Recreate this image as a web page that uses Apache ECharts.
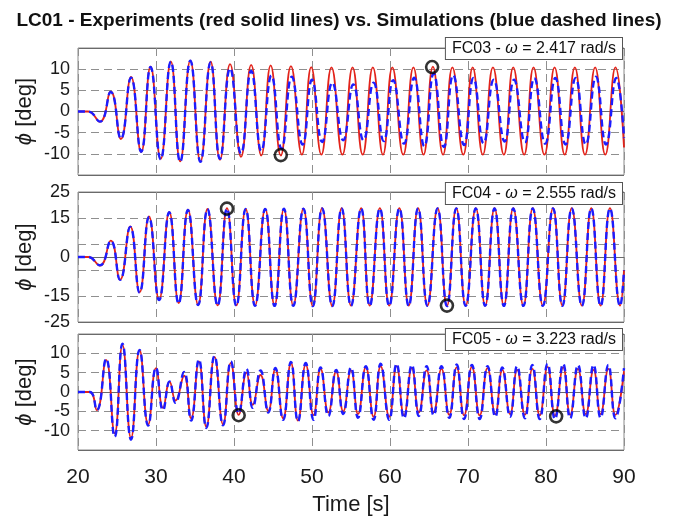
<!DOCTYPE html>
<html>
<head>
<meta charset="utf-8">
<script src="https://cdn.jsdelivr.net/npm/echarts@6/dist/echarts.min.js"></script>
<style>
  html, body { margin: 0; padding: 0; background: #fff; }
  #chart { width: 678px; height: 517px; }
</style>
</head>
<body>
<div id="chart"></div>
<script>
// x axis ticks (time, s)
const timeTicks = [20, 30, 40, 50, 60, 70, 80, 90];
// y tick labels for each panel
const yLabels03 = [-10, -5, 0, 5, 10];
const yLabels04 = [-25, -15, 0, 15, 25];
const yLabels05 = [-10, -5, 0, 5, 10];

// FC03 - peaks/troughs [time, phi]
const fc03Exp = [[20, 0], [21.3, 0], [22.8, -2.4], [24.2, 4.7], [25.5, -6.5], [26.8, 8.2], [28.1, -9.6], [29.3, 10.6],
  [30.6, -11.2], [31.9, 11.8], [33.1, -11.8], [34.4, 12.0], [35.7, -11.8], [37.0, 11.8], [38.2, -11.4], [39.5, 11.2],
  [40.9, -10.7], [42.2, 11.0], [43.5, -10.4], [44.7, 10.9], [46.0, -10.4], [47.3, 10.7], [48.7, -10.2], [49.9, 10.5],
  [51.2, -10.2], [52.5, 10.4], [53.9, -10.2], [55.2, 10.4], [56.5, -10.2], [57.8, 10.4], [59.1, -10.2], [60.3, 10.4],
  [61.7, -10.2], [63.0, 10.4], [64.3, -10.2], [65.5, 10.6], [66.8, -10.2], [68.0, 10.4], [69.4, -10.2], [70.6, 10.4],
  [71.9, -10.2], [73.2, 10.4], [74.6, -10.2], [75.8, 10.4], [77.2, -10.2], [78.4, 10.4], [79.8, -10.2], [81.1, 10.4],
  [82.4, -10.2], [83.7, 10.4], [85.0, -10.2], [86.3, 10.4], [87.6, -10.2], [88.9, 10.4], [90, -8.5]];
const fc03Sim = [[20, 0], [21.3, 0], [22.8, -2.4], [24.2, 4.6], [25.5, -6.4], [26.8, 8.0], [28.1, -9.5], [29.3, 10.5],
  [30.6, -11.3], [31.9, 11.8], [33.1, -11.9], [34.4, 12.0], [35.7, -11.9], [37.0, 11.6], [38.2, -11.2], [39.5, 10.2],
  [40.9, -9.9], [42.2, 9.6], [43.5, -9.3], [44.8, 8.5], [46.1, -8.8], [47.4, 8.2], [48.8, -7.8], [50.0, 7.5],
  [51.3, -7.2], [52.6, 6.8], [54.0, -6.8], [55.3, 6.4], [56.6, -6.8], [57.9, 6.8], [59.2, -7.0], [60.4, 7.4],
  [61.8, -7.6], [63.1, 8.0], [64.4, -8.2], [65.6, 9.0], [66.9, -8.4], [68.1, 8.6], [69.5, -7.9], [70.7, 7.9],
  [72.0, -7.5], [73.3, 7.5], [74.7, -7.1], [75.9, 7.5], [77.3, -7.3], [78.5, 7.9], [79.9, -7.6], [81.2, 7.9],
  [82.5, -7.8], [83.8, 7.9], [85.1, -7.8], [86.4, 8.2], [87.7, -7.8], [89.0, 7.9], [90, -6.3]];
const fc03Marks = [[46.0, -10.3], [65.4, 10.5]];

// FC04
const fc04Exp = [[20, 0], [21.3, 0], [22.8, -3.3], [24.2, 6.3], [25.4, -8.7], [26.7, 11.8], [27.9, -13.6], [29.1, 15.6],
  [30.4, -16.4], [31.7, 17.3], [32.9, -17.7], [34.1, 18.2], [35.4, -18.3], [36.6, 18.5], [37.9, -18.6], [39.1, 18.8],
  [40.3, -18.6], [41.5, 18.5], [42.7, -18.6], [44.0, 18.5], [45.2, -18.6], [46.4, 18.5], [47.6, -18.6], [48.9, 18.6],
  [50.1, -18.9], [51.3, 18.8], [52.6, -18.9], [53.8, 18.8], [55.0, -18.7], [56.3, 18.8], [57.4, -18.7], [58.7, 18.8],
  [59.9, -18.7], [61.2, 18.8], [62.4, -18.7], [63.6, 18.8], [64.8, -18.7], [66.1, 18.8], [67.3, -18.8], [68.5, 18.8],
  [69.7, -18.7], [71.0, 18.8], [72.2, -18.7], [73.4, 18.8], [74.6, -18.7], [75.8, 18.8], [77.1, -18.7], [78.3, 18.8],
  [79.6, -18.7], [80.9, 18.8], [82.1, -18.7], [83.3, 18.8], [84.6, -18.7], [85.8, 18.8], [87.0, -18.7], [88.2, 18.8],
  [89.5, -18.7], [90, -5.0]];
const fc04Sim = [[20, 0], [21.3, 0], [22.8, -3.2], [24.2, 6.2], [25.4, -8.8], [26.7, 11.6], [27.9, -13.7], [29.1, 15.4],
  [30.4, -16.6], [31.7, 17.2], [32.9, -17.9], [34.1, 18.1], [35.4, -18.5], [36.6, 18.4], [37.9, -18.7], [39.1, 18.6],
  [40.3, -18.8], [41.5, 18.5], [42.7, -18.8], [44.0, 18.5], [45.2, -18.8], [46.4, 18.6], [47.6, -18.8], [48.9, 18.6],
  [50.1, -18.9], [51.3, 18.7], [52.6, -18.9], [53.8, 18.7], [55.0, -18.8], [56.3, 18.7], [57.4, -18.8], [58.7, 18.7],
  [59.9, -18.8], [61.2, 18.7], [62.4, -18.8], [63.6, 18.7], [64.8, -18.8], [66.1, 18.7], [67.3, -18.9], [68.5, 18.7],
  [69.7, -18.8], [71.0, 18.7], [72.2, -18.8], [73.4, 18.7], [74.6, -18.8], [75.8, 18.7], [77.1, -18.8], [78.3, 18.7],
  [79.6, -18.8], [80.9, 18.7], [82.1, -18.8], [83.3, 18.7], [84.6, -18.8], [85.8, 18.7], [87.0, -18.8], [88.2, 18.7],
  [89.5, -18.8], [90, -5.2]];
const fc04Marks = [[39.1, 18.6], [67.3, -18.7]];

// FC05
const fc05Exp = [[20, 0], [21.5, 0], [22.4, -4.7], [23.6, 8.3], [24.7, -10.7], [25.7, 12.2], [26.8, -11.9], [27.9, 10.8],
  [29.0, -8.4], [30.0, 6.2], [30.9, -4.1], [31.75, 2.6], [32.5, -2.2], [33.6, 4.2], [34.5, -6.8], [35.5, 7.9],
  [36.45, -9.0], [37.5, 9.1], [38.6, -8.4], [39.6, 7.5], [40.6, -5.9], [41.6, 5.0], [42.4, -3.3], [43.4, 4.4],
  [44.4, -4.9], [45.3, 6.0], [46.3, -6.8], [47.3, 7.5], [48.2, -7.4], [49.2, 7.1], [50.2, -6.0], [51.1, 6.0],
  [52.1, -5.3], [53.1, 5.3], [54.0, -5.0], [55.0, 5.6], [55.9, -5.7], [56.9, 6.4], [57.9, -6.4], [58.8, 6.7],
  [59.9, -6.4], [60.85, 6.7], [61.8, -6.05], [62.8, 6.2], [63.7, -5.3], [64.7, 5.6], [65.6, -5.3], [66.6, 6.0],
  [67.6, -5.9], [68.55, 6.35], [69.5, -6.05], [70.5, 6.5], [71.5, -6.05], [72.5, 6.2], [73.5, -5.7], [74.4, 5.7],
  [75.4, -5.7], [76.3, 5.7], [77.3, -5.9], [78.25, 6.0], [79.2, -6.05], [80.2, 6.5], [81.15, -6.1], [82.2, 6.35],
  [83.1, -5.9], [84.1, 6.0], [85.1, -5.7], [86.1, 5.7], [87.0, -5.7], [88.0, 6.0], [88.9, -5.9], [90, 5.4]];
const fc05Sim = [[20, 0], [21.5, 0], [22.4, -4.7], [23.6, 8.6], [24.7, -11.6], [25.7, 12.5], [26.8, -12.3], [27.9, 10.9],
  [29.0, -8.7], [30.0, 6.3], [30.9, -4.7], [31.75, 2.7], [32.5, -2.8], [33.6, 5.2], [34.5, -7.4], [35.5, 8.4],
  [36.45, -9.3], [37.5, 9.3], [38.6, -8.6], [39.6, 7.9], [40.6, -5.5], [41.6, 6.0], [42.4, -4.1], [43.4, 5.6],
  [44.4, -5.3], [45.3, 6.2], [46.3, -7.2], [47.3, 7.8], [48.2, -7.6], [49.2, 7.5], [50.2, -7.2], [51.1, 6.35],
  [52.1, -6.2], [53.1, 5.7], [54.0, -5.7], [55.0, 6.35], [55.9, -6.7], [56.9, 6.7], [57.9, -7.2], [58.8, 7.3],
  [59.9, -7.2], [60.85, 7.3], [61.8, -6.8], [62.8, 7.0], [63.7, -6.2], [64.7, 6.7], [65.6, -6.05], [66.6, 6.7],
  [67.6, -6.7], [68.55, 7.1], [69.5, -7.0], [70.5, 7.0], [71.5, -7.0], [72.5, 6.7], [73.5, -6.4], [74.4, 6.35],
  [75.4, -6.4], [76.3, 6.7], [77.3, -6.8], [78.25, 7.0], [79.2, -7.0], [80.2, 7.3], [81.15, -7.0], [82.2, 7.3],
  [83.1, -6.8], [84.1, 7.0], [85.1, -6.8], [86.1, 7.0], [87.0, -6.7], [88.0, 7.0], [88.9, -6.8], [90, 6.2]];
const fc05Marks = [[40.6, -6.0], [81.3, -6.3]];

const font = '"Liberation Sans", Arial, Helvetica, sans-serif';
const gridColor = '#8f8f8f';

const chart = echarts.init(document.getElementById('chart'));

const grids = [
  { left: 78, right: 54, top: 48, height: 127 },
  { left: 78, right: 54, top: 192, height: 130 },
  { left: 78, right: 54, top: 334, height: 127 }
].map(g => Object.assign(g, { show: true, borderColor: '#8a8a8a', borderWidth: 1, backgroundColor: '#fff' }));

function makeX(i) {
  return {
    type: 'value', gridIndex: i, min: timeTicks[0], max: timeTicks[timeTicks.length - 1], interval: 10,
    axisLine: { show: false }, axisTick: { show: false },
    axisLabel: { show: i === 2, color: '#1a1a1a', fontSize: 21, fontFamily: font, margin: 17,
      formatter: v => timeTicks.includes(v) ? String(v) : '' },
    splitLine: { show: true, lineStyle: { color: gridColor, type: [8, 5], width: 1 } },
    name: i === 2 ? 'Time [s]' : '', nameLocation: 'middle', nameGap: 44, nameMoveOverlap: false,
    nameTextStyle: { color: '#1a1a1a', fontSize: 22, fontFamily: font }
  };
}

// dashed grid axis (with labels) + second axis for the solid zero line
function makeY(i, lim, step, labels) {
  // zero gets its own label when the dashed axis has no tick there
  const zeroOnGrid = (lim % step) === 0;
  return [{
    type: 'value', gridIndex: i, min: -lim, max: lim, interval: step, position: 'left',
    axisLine: { show: false }, axisTick: { show: false },
    axisLabel: { color: '#1a1a1a', fontSize: 18, fontFamily: font, margin: 8,
      formatter: v => labels.includes(v) ? String(v) : '' },
    splitLine: { show: true, lineStyle: { color: gridColor, type: [8, 5], width: 1 } },
    name: '{p|ϕ} [deg]', nameLocation: 'middle', nameRotate: 90, nameGap: 42, nameMoveOverlap: false,
    nameTextStyle: { color: '#1a1a1a', fontSize: 22, fontFamily: font,
      rich: { p: { fontStyle: 'italic', fontSize: 22, fontFamily: font, color: '#1a1a1a' } } }
  }, {
    type: 'value', gridIndex: i, min: -lim, max: lim, interval: lim, position: 'left',
    axisLine: { show: false }, axisTick: { show: false },
    axisLabel: { show: !zeroOnGrid || (lim / step) % 2 === 1 && step !== 5, color: '#1a1a1a', fontSize: 18,
      fontFamily: font, margin: 8, formatter: v => v === 0 ? '0' : '' },
    splitLine: { show: true, lineStyle: { color: '#6a6a6a', type: 'solid', width: 1 } }
  }];
}

const yAxes = [].concat(
  makeY(0, 15, 5, yLabels03),
  makeY(1, 25, 10, yLabels04),
  makeY(2, 15, 5, yLabels05)
);

function panelSeries(i, exp, sim, marks) {
  return [{
    type: 'line', xAxisIndex: i, yAxisIndex: i * 2, data: exp, showSymbol: false, smooth: 0.5,
    lineStyle: { color: '#e2231a', width: 1.8 }, z: 3, silent: true
  }, {
    type: 'line', xAxisIndex: i, yAxisIndex: i * 2, data: sim, showSymbol: false, smooth: 0.5,
    lineStyle: { color: '#1c1cff', width: 2.4, type: [7, 4] }, z: 4, silent: true
  }, {
    type: 'scatter', xAxisIndex: i, yAxisIndex: i * 2, data: marks, symbol: 'circle', symbolSize: 12,
    itemStyle: { color: 'rgba(0,0,0,0)', borderColor: '#000', borderWidth: 2.6 }, z: 5, silent: true
  }];
}

function boxText(label, speed, top) {
  return {
    type: 'text', right: 55, top: top, z: 100,
    style: {
      text: label + ' - {w|ω} = ' + speed + ' rad/s',
      font: '16px ' + font, fill: '#111',
      rich: { w: { fontStyle: 'italic', fontSize: 16, fontFamily: font, fill: '#111' } },
      backgroundColor: '#fff', borderColor: '#555', borderWidth: 1, padding: [3, 6, 2, 6]
    }
  };
}

const option = {
  animation: false,
  backgroundColor: '#fff',
  title: {
    text: 'LC01 - Experiments (red solid lines) vs. Simulations (blue dashed lines)',
    left: 'center', top: 6,
    textStyle: { fontSize: 19, fontWeight: 'bold', color: '#111', fontFamily: font }
  },
  grid: grids,
  xAxis: [makeX(0), makeX(1), makeX(2)],
  yAxis: yAxes,
  series: [].concat(
    panelSeries(0, fc03Exp, fc03Sim, fc03Marks),
    panelSeries(1, fc04Exp, fc04Sim, fc04Marks),
    panelSeries(2, fc05Exp, fc05Sim, fc05Marks)
  ),
  graphic: [
    boxText('FC03', '2.417', 37),
    boxText('FC04', '2.555', 182),
    boxText('FC05', '3.223', 328)
  ]
};

chart.setOption(option);
</script>
</body>
</html>
